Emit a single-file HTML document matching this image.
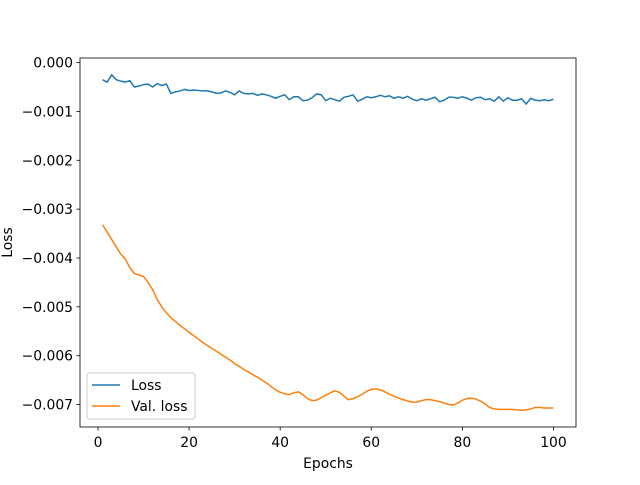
<!DOCTYPE html>
<html><head><meta charset="utf-8"><style>
body{margin:0;background:#fff;}
svg{font-family:"DejaVu Sans","Liberation Sans",sans-serif;}
</style></head><body>
<svg id="chart" width="640" height="480" xmlns="http://www.w3.org/2000/svg">
<rect width="640" height="480" fill="#fff"/>
<g id="plot"></g>
</svg>
<script>
const epochs = Array.from({length:100},(_, i)=>i+1);
const lossValues = [-0.00035,-0.0004,-0.00025,-0.00035,-0.00038,-0.0004,-0.00037,-0.0005,-0.00048,-0.00045,-0.00044,-0.0005,-0.00043,-0.00047,-0.00044,-0.00063,-0.0006,-0.00058,-0.00055,-0.00057,
-0.00056,-0.00057,-0.00058,-0.00058,-0.0006,-0.00063,-0.00062,-0.00058,-0.00061,-0.00066,-0.00058,-0.00063,-0.00064,-0.00063,-0.00067,-0.00064,-0.00066,-0.00069,-0.00073,-0.00069,
-0.00066,-0.00076,-0.0007,-0.0007,-0.00078,-0.00077,-0.00072,-0.00064,-0.00066,-0.00078,-0.00073,-0.00076,-0.00079,-0.00071,-0.00069,-0.00066,-0.00079,-0.00075,-0.0007,-0.00072,
-0.0007,-0.00067,-0.0007,-0.00068,-0.00073,-0.0007,-0.00073,-0.00069,-0.00075,-0.00078,-0.00074,-0.00077,-0.00074,-0.00071,-0.0008,-0.00077,-0.00071,-0.00071,-0.00073,-0.0007,
-0.00073,-0.00077,-0.00072,-0.00071,-0.00076,-0.00074,-0.00079,-0.0007,-0.00079,-0.00072,-0.00077,-0.00077,-0.00074,-0.00085,-0.00073,-0.00077,-0.00078,-0.00076,-0.00078,-0.00075];
const valLossValues = [-0.00332,-0.00347,-0.00362,-0.00377,-0.00392,-0.00402,-0.0042,-0.00432,-0.00435,-0.00438,-0.0045,-0.00465,-0.00485,-0.005,-0.00512,-0.00522,-0.0053,-0.00538,-0.00545,-0.00552,
-0.00559,-0.00566,-0.00573,-0.00579,-0.00585,-0.00591,-0.00597,-0.00603,-0.00609,-0.00616,-0.00622,-0.00628,-0.00633,-0.00639,-0.00644,-0.0065,-0.00656,-0.00663,-0.0067,-0.00675,
-0.00678,-0.0068,-0.00676,-0.00674,-0.0068,-0.00688,-0.00692,-0.00691,-0.00686,-0.00681,-0.00676,-0.00672,-0.00675,-0.00683,-0.0069,-0.00688,-0.00684,-0.00679,-0.00673,-0.00669,
-0.00668,-0.0067,-0.00674,-0.00679,-0.00683,-0.00687,-0.0069,-0.00693,-0.00695,-0.00695,-0.00692,-0.0069,-0.0069,-0.00692,-0.00694,-0.00697,-0.007,-0.00701,-0.00697,-0.00691,
-0.00688,-0.00687,-0.00689,-0.00693,-0.00699,-0.00706,-0.00709,-0.0071,-0.0071,-0.0071,-0.0071,-0.00711,-0.00712,-0.00711,-0.00709,-0.00706,-0.00706,-0.00707,-0.00707,-0.00707];
const xTicks = [0,20,40,60,80,100];
const yTicks = [0,-0.001,-0.002,-0.003,-0.004,-0.005,-0.006,-0.007];
const yTickLabels = ["0.000","\u22120.001","\u22120.002","\u22120.003","\u22120.004","\u22120.005","\u22120.006","\u22120.007"];

const L=80,R=576,T=58,B=427;
const xmin=-3.95,xmax=104.95,ymin=-0.00746,ymax=0.000094;
const FS=13.9;
const sx=v=>L+(v-xmin)/(xmax-xmin)*(R-L);
const sy=v=>B-(v-ymin)/(ymax-ymin)*(B-T);
const NS="http://www.w3.org/2000/svg";
const g=document.getElementById('plot');
function mk(tag,attrs,parent){const e=document.createElementNS(NS,tag);for(const k in attrs)e.setAttribute(k,attrs[k]);(parent||g).appendChild(e);return e;}

function line(vals,color,name){
  const p=mk('polyline',{points:vals.map((v,i)=>sx(epochs[i])+','+sy(v)).join(' '),fill:'none',stroke:color,'stroke-width':1.5});
  
  
}
line(lossValues,'#1f77b4','loss-line');
line(valLossValues,'#ff7f0e','val-loss-line');

const frame=mk('rect',{x:L,y:T,width:R-L,height:B-T,fill:'none',stroke:'#000','stroke-width':0.8});



xTicks.forEach(t=>{
  const x=sx(t);
  mk('line',{x1:x,x2:x,y1:B,y2:B+3.5,stroke:'#000','stroke-width':0.8});
  const tx=mk('text',{x:x,y:B+20,'text-anchor':'middle','font-size':FS});
  tx.textContent=t;
  
  
});
yTicks.forEach((t,i)=>{
  const y=sy(t);
  mk('line',{x1:L-3.5,x2:L,y1:y,y2:y,stroke:'#000','stroke-width':0.8});
  const tx=mk('text',{x:L-7,y:y+5,'text-anchor':'end','font-size':FS});
  tx.textContent=yTickLabels[i];
  
  
});
const xt=mk('text',{x:(L+R)/2,y:468,'text-anchor':'middle','font-size':FS});
xt.textContent='Epochs';


const yt=mk('text',{x:0,y:0,'text-anchor':'middle','font-size':FS,transform:'translate(12,'+((T+B)/2)+') rotate(-90)'});
yt.textContent='Loss';



const lg=mk('g',{});


mk('rect',{x:87,y:373,width:108,height:46,rx:2,fill:'#fff','fill-opacity':0.8,stroke:'#ccc','stroke-width':1},lg);
[['Loss','#1f77b4',385],['Val. loss','#ff7f0e',406]].forEach(([lab,c,y])=>{
  mk('line',{x1:92,x2:120,y1:y,y2:y,stroke:c,'stroke-width':1.5},lg);
  const t=mk('text',{x:131,y:y+5,'font-size':FS},lg);
  t.textContent=lab;
  
  
});
</script>
</body></html>
